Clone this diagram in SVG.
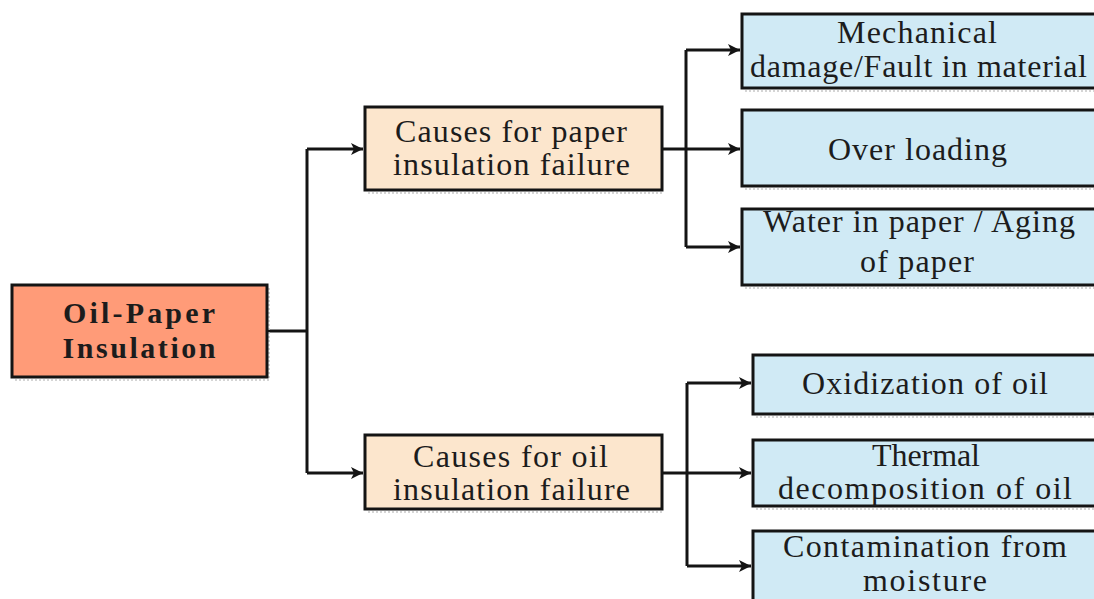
<svg xmlns="http://www.w3.org/2000/svg" width="1094" height="599" viewBox="0 0 1094 599">
  <style>
    .box { stroke: #141414; stroke-width: 3; }
    .root { fill: #FF9B78; }
    .cause { fill: #FCE6CD; }
    .effect { fill: #D0EAF5; }
    .shadow { fill: none; stroke: #c8c8c8; stroke-width: 1.5; stroke-dasharray: 2 2; }
    text { font-family: 'Liberation Serif', Times, serif; font-size: 32px; fill: #1c1c1c; text-anchor: middle; }
    text.bold { font-weight: bold; font-size: 30px; }
    .wire { fill: none; stroke: #141414; stroke-width: 3; }
  </style>
  <defs>
    <marker id="arrow" markerUnits="userSpaceOnUse" markerWidth="14" markerHeight="12" refX="12" refY="6" orient="auto">
      <path d="M0,0 L12,6 L0,12 L3,6 Z" fill="#141414"/>
    </marker>
  </defs>
  <rect width="1094" height="599" fill="#ffffff"/>

  <!-- connectors -->
  <g id="connectors">
    <path class="wire" d="M267,331 H307"/>
    <path class="wire" d="M307,149 V473"/>
    <path class="wire" d="M307,149 H363" marker-end="url(#arrow)"/>
    <path class="wire" d="M307,473 H363" marker-end="url(#arrow)"/>

    <path class="wire" d="M662,149 H740" marker-end="url(#arrow)"/>
    <path class="wire" d="M686,50 V247"/>
    <path class="wire" d="M686,50 H740" marker-end="url(#arrow)"/>
    <path class="wire" d="M686,247 H740" marker-end="url(#arrow)"/>

    <path class="wire" d="M662,473 H751" marker-end="url(#arrow)"/>
    <path class="wire" d="M687,383 V566"/>
    <path class="wire" d="M687,383 H751" marker-end="url(#arrow)"/>
    <path class="wire" d="M687,566 H751" marker-end="url(#arrow)"/>
  </g>

  <!-- root node -->
  <g id="oil-paper-insulation">
    <path class="shadow" d="M15,380 H269 V288"/>
    <rect class="box root" x="12" y="285" width="255" height="92"/>
    <text class="bold" x="139" y="323" textLength="152" lengthAdjust="spacing">Oil-Paper</text>
    <text class="bold" x="139" y="358" textLength="153" lengthAdjust="spacing">Insulation</text>
  </g>

  <!-- cause nodes -->
  <g id="paper-causes">
    <path class="shadow" d="M368,193 H664"/>
    <rect class="box cause" x="365" y="107" width="297" height="83"/>
    <text x="511" y="142" textLength="232" lengthAdjust="spacing">Causes for paper</text>
    <text x="511.5" y="175" textLength="237" lengthAdjust="spacing">insulation failure</text>
  </g>
  <g id="oil-causes">
    <path class="shadow" d="M368,512 H664"/>
    <rect class="box cause" x="365" y="435" width="297" height="74"/>
    <text x="510.5" y="467" textLength="195" lengthAdjust="spacing">Causes for oil</text>
    <text x="511.5" y="500" textLength="237" lengthAdjust="spacing">insulation failure</text>
  </g>

  <!-- paper failure causes -->
  <g id="mechanical-damage">
    <path class="shadow" d="M745,91 H1094"/>
    <rect class="box effect" x="742" y="14" width="360" height="74"/>
    <text x="917" y="43" textLength="160" lengthAdjust="spacing">Mechanical</text>
    <text x="918.5" y="77" textLength="337" lengthAdjust="spacing">damage/Fault in material</text>
  </g>
  <g id="over-loading">
    <path class="shadow" d="M745,189 H1094"/>
    <rect class="box effect" x="742" y="110" width="360" height="76"/>
    <text x="917.5" y="160" textLength="179" lengthAdjust="spacing">Over loading</text>
  </g>
  <g id="water-aging">
    <path class="shadow" d="M745,288 H1094"/>
    <rect class="box effect" x="742" y="209" width="360" height="76"/>
    <text x="919" y="232" textLength="312" lengthAdjust="spacing">Water in paper / Aging</text>
    <text x="917" y="272" textLength="114" lengthAdjust="spacing">of paper</text>
  </g>

  <!-- oil failure causes -->
  <g id="oxidization">
    <path class="shadow" d="M756,417 H1094"/>
    <rect class="box effect" x="753" y="355" width="360" height="59"/>
    <text x="925" y="394" textLength="246" lengthAdjust="spacing">Oxidization of oil</text>
  </g>
  <g id="thermal-decomposition">
    <path class="shadow" d="M756,509 H1094"/>
    <rect class="box effect" x="753" y="440" width="360" height="66"/>
    <text x="926" y="466" textLength="108" lengthAdjust="spacing">Thermal</text>
    <text x="925" y="499" textLength="294" lengthAdjust="spacing">decomposition of oil</text>
  </g>
  <g id="moisture-contamination">
    <rect class="box effect" x="753" y="531" width="360" height="80"/>
    <text x="925" y="557" textLength="284" lengthAdjust="spacing">Contamination from</text>
    <text x="925" y="591" textLength="124" lengthAdjust="spacing">moisture</text>
  </g>
</svg>
